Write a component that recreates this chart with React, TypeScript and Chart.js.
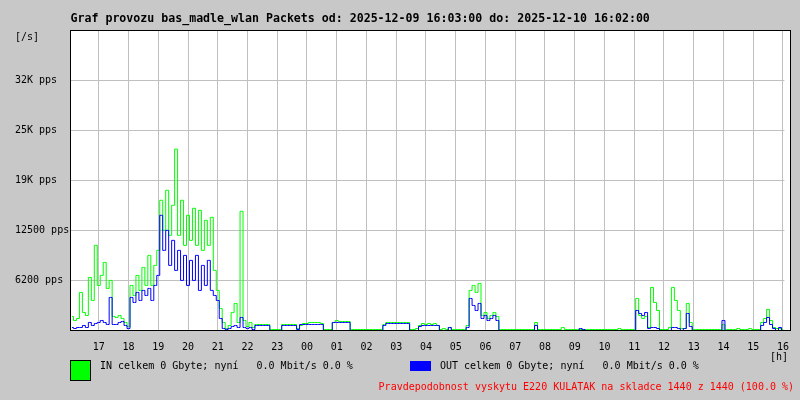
import { useEffect, useRef } from 'react';
import { Chart, registerables } from 'chart.js';

Chart.register(...registerables);

const TITLE = 'Graf provozu bas_madle_wlan Packets od: 2025-12-09 16:03:00 do: 2025-12-10 16:02:00';
const HOUR_LABELS = ['17', '18', '19', '20', '21', '22', '23', '00', '01', '02', '03', '04', '05', '06', '07', '08', '09', '10', '11', '12', '13', '14', '15', '16'];
const FIRST_HOUR_MINUTE = 57;
const TOTAL_MINUTES = 1440;
const SAMPLE_MINUTES = 6;
const Y_MAX = 37500;
const Y_TICK_VALUES = [6250, 12500, 18750, 25000, 31250];
const Y_TICK_LABELS = ['6200 pps', '12500 pps', '19K pps', '25K pps', '32K pps'];
const Y_UNIT = '[/s]';
const X_UNIT = '[h]';
const IN_LEGEND = 'IN celkem 0 Gbyte; nyní   0.0 Mbit/s 0.0 %';
const OUT_LEGEND = 'OUT celkem 0 Gbyte; nyní   0.0 Mbit/s 0.0 %';
const NOTE = 'Pravdepodobnost vyskytu E220 KULATAK na skladce 1440 z 1440 (100.0 %)';

const IN_PPS = [
  1750, 1250, 1500, 4750, 2250, 1875, 6625, 3750, 10625, 5625,
  6875, 8500, 5250, 6250, 1750, 1625, 1875, 1500, 1000, 500,
  5625, 4375, 6875, 5000, 7875, 5625, 9375, 5625, 8125, 10000,
  16250, 12500, 17500, 11875, 15625, 22625, 11875, 16250, 10625, 14375,
  11250, 15250, 10625, 15000, 10000, 13750, 10625, 14125, 7500, 5000,
  2750, 1000, 250, 625, 2250, 3375, 1000, 14875, 1250, 500,
  1000, 375, 750, 750, 750, 750, 750, 125, 125, 125,
  125, 750, 750, 750, 750, 750, 250, 625, 875, 875,
  1000, 1000, 1000, 1000, 875, 125, 125, 125, 1000, 1250,
  1125, 1125, 1125, 1125, 125, 125, 125, 125, 125, 125,
  125, 125, 125, 125, 125, 750, 1000, 1000, 1000, 1000,
  1000, 1000, 1000, 1000, 125, 125, 250, 625, 875, 750,
  875, 750, 875, 625, 125, 250, 125, 375, 125, 125,
  125, 125, 125, 625, 5000, 5625, 4750, 5875, 1875, 2250,
  1500, 1875, 2250, 1750, 125, 125, 125, 125, 125, 125,
  125, 125, 125, 125, 125, 125, 1000, 125, 125, 125,
  125, 125, 125, 125, 125, 375, 125, 125, 125, 125,
  125, 125, 125, 125, 125, 125, 125, 125, 125, 125,
  125, 125, 125, 125, 250, 125, 125, 125, 125, 125,
  4000, 1875, 1500, 1750, 375, 5375, 3500, 2500, 125, 125,
  125, 375, 5375, 3750, 2500, 250, 250, 3375, 1000, 125,
  125, 125, 125, 125, 125, 125, 125, 125, 125, 750,
  125, 125, 125, 125, 250, 125, 125, 125, 250, 125,
  125, 125, 1000, 1500, 2625, 1250, 375, 250, 250, 125,
];

const OUT_PPS = [
  375, 250, 375, 375, 625, 375, 1000, 625, 875, 1000,
  1250, 1000, 750, 4125, 750, 750, 1000, 1125, 625, 250,
  4125, 3500, 4750, 3750, 5000, 4375, 5250, 3750, 5625, 6875,
  14375, 10000, 12500, 8125, 11250, 7500, 10000, 6250, 9375, 5625,
  8750, 6250, 9375, 5000, 8125, 5625, 8750, 5000, 4375, 3750,
  1500, 250, 125, 250, 500, 625, 375, 1625, 375, 250,
  375, 125, 625, 625, 625, 625, 625, 0, 0, 0,
  0, 625, 625, 625, 625, 625, 125, 750, 750, 750,
  750, 750, 750, 750, 750, 0, 0, 0, 1000, 1000,
  1000, 1000, 1000, 1000, 0, 0, 0, 0, 0, 0,
  0, 0, 0, 0, 0, 625, 875, 875, 875, 875,
  875, 875, 875, 875, 0, 0, 0, 500, 625, 625,
  625, 625, 625, 625, 0, 0, 0, 375, 0, 0,
  0, 0, 0, 375, 4000, 3125, 2500, 3375, 1500, 1875,
  1250, 1500, 1875, 1250, 0, 0, 0, 0, 0, 0,
  0, 0, 0, 0, 0, 0, 625, 0, 0, 0,
  0, 0, 0, 0, 0, 0, 0, 0, 0, 0,
  0, 250, 125, 0, 0, 0, 0, 0, 0, 0,
  0, 0, 0, 0, 0, 0, 0, 0, 0, 0,
  2500, 2125, 1875, 2250, 250, 375, 375, 250, 0, 0,
  0, 0, 375, 375, 250, 0, 250, 2125, 500, 0,
  0, 0, 0, 0, 0, 0, 0, 0, 0, 1250,
  0, 0, 0, 0, 0, 0, 0, 0, 0, 0,
  0, 0, 625, 1000, 1625, 750, 250, 0, 375, 0,
];

const MONO = "'DejaVu Sans Mono', 'Liberation Mono', monospace";
const BG = '#c8c8c8';
const GRID = '#c0c0c0';

const hourTicks = HOUR_LABELS.map((_, k) => FIRST_HOUR_MINUTE + 60 * k);
const yTicks = [0, ...Y_TICK_VALUES, Y_MAX];

const toPoints = (arr: number[]) =>
  arr.map((v, i) => ({ x: i * SAMPLE_MINUTES + SAMPLE_MINUTES / 2, y: v }));

const decorPlugin = {
  id: 'decor',
  beforeDraw(chart: any) {
    const { ctx } = chart;
    ctx.save();
    ctx.fillStyle = BG;
    ctx.fillRect(0, 0, chart.width, chart.height);
    ctx.fillStyle = '#ffffff';
    ctx.fillRect(70, 30, 720, 300);
    ctx.restore();
  },
  afterDraw(chart: any) {
    const { ctx } = chart;
    ctx.save();
    ctx.fillStyle = '#000000';
    ctx.fillRect(70, 30, 721, 1);
    ctx.fillRect(70, 330, 721, 1);
    ctx.fillRect(70, 30, 1, 301);
    ctx.fillRect(790, 30, 1, 301);

    ctx.font = `10px ${MONO}`;
    ctx.textBaseline = 'middle';
    ctx.textAlign = 'left';
    ctx.fillStyle = '#000000';
    ctx.fillText(Y_UNIT, 15, 37);
    ctx.fillText(X_UNIT, 770, 357.5);

    ctx.fillStyle = '#00ff00';
    ctx.fillRect(70, 360, 21, 21);
    ctx.strokeStyle = '#000000';
    ctx.lineWidth = 1;
    ctx.strokeRect(70.5, 360.5, 20, 20);
    ctx.fillStyle = '#000000';
    ctx.fillText(IN_LEGEND, 100, 366.5);

    ctx.fillStyle = '#0000ff';
    ctx.fillRect(410, 361, 21, 10);
    ctx.fillStyle = '#000000';
    ctx.fillText(OUT_LEGEND, 440, 366.5);

    ctx.fillStyle = '#ff0000';
    ctx.textAlign = 'right';
    ctx.fillText(NOTE, 794, 387);
    ctx.restore();
  },
};

export default function App() {
  const canvasRef = useRef<HTMLCanvasElement | null>(null);

  useEffect(() => {
    const canvas = canvasRef.current;
    if (!canvas) return;
    const chart = new Chart(canvas, {
      type: 'line',
      data: {
        datasets: [
          {
            label: 'IN',
            data: toPoints(IN_PPS),
            borderColor: '#00ff00',
            borderWidth: 1,
            pointRadius: 0,
            stepped: 'middle',
            fill: false,
            order: 2,
          },
          {
            label: 'OUT',
            data: toPoints(OUT_PPS),
            borderColor: '#0000ff',
            borderWidth: 1,
            pointRadius: 0,
            stepped: 'middle',
            fill: false,
            order: 1,
          },
        ],
      },
      options: {
        responsive: false,
        animation: false,
        devicePixelRatio: 1,
        layout: { padding: { left: 15, right: 9.5, top: 0, bottom: 0 } },
        plugins: {
          legend: { display: false },
          tooltip: { enabled: false },
          title: {
            display: true,
            text: TITLE,
            align: 'start',
            fullSize: false,
            color: '#000000',
            font: { family: MONO, size: 11.6, weight: 'bold', lineHeight: 1.2 },
            padding: { top: 12.5, bottom: 3.58 },
          },
        },
        scales: {
          x: {
            type: 'linear',
            min: 0,
            max: TOTAL_MINUTES,
            afterBuildTicks: (scale: any) => {
              scale.ticks = hourTicks.map((v) => ({ value: v }));
            },
            afterFit: (scale: any) => {
              scale.height = 69.5;
            },
            grid: { color: GRID, drawTicks: false, lineWidth: 1 },
            border: { display: false },
            ticks: {
              autoSkip: false,
              maxRotation: 0,
              padding: 11,
              color: '#000000',
              font: { family: MONO, size: 10, lineHeight: 1.2 },
              callback: (_v: any, i: number) => HOUR_LABELS[i],
            },
          },
          y: {
            type: 'linear',
            min: 0,
            max: Y_MAX,
            afterBuildTicks: (scale: any) => {
              scale.ticks = yTicks.map((v) => ({ value: v }));
            },
            afterFit: (scale: any) => {
              scale.width = 55.5;
            },
            grid: { color: GRID, drawTicks: false, lineWidth: 1 },
            border: { display: false },
            ticks: {
              autoSkip: false,
              crossAlign: 'far',
              color: '#000000',
              font: { family: MONO, size: 10, lineHeight: 1.2 },
              callback: (v: any) => {
                const idx = Y_TICK_VALUES.indexOf(Number(v));
                return idx >= 0 ? Y_TICK_LABELS[idx] : '';
              },
            },
          },
        },
      } as any,
      plugins: [decorPlugin],
    });
    return () => chart.destroy();
  }, []);

  return (
    <div style={{ position: 'absolute', left: 0, top: 0, width: 800, height: 400, background: BG }}>
      <canvas ref={canvasRef} width={800} height={400} style={{ display: 'block' }} />
    </div>
  );
}
